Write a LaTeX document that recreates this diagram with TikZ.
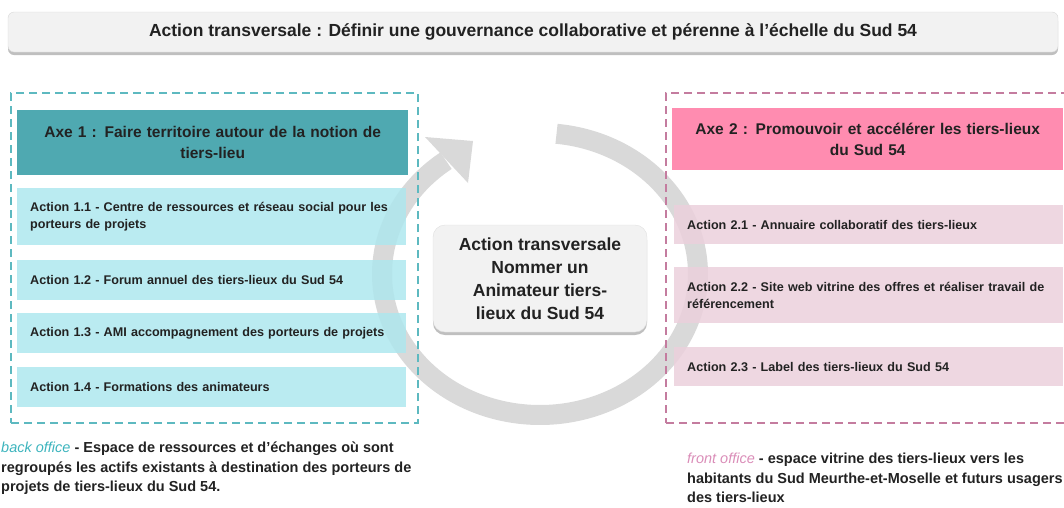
\documentclass[tikz,border=0pt]{standalone}
\usepackage{fontspec}
\setmainfont{Liberation Sans}
\usetikzlibrary{shadows}
\definecolor{teal1}{HTML}{4FA9B1}
\definecolor{cyan1}{HTML}{AEE7EE}
\definecolor{tealdash}{HTML}{5DB9C0}
\definecolor{pink1}{HTML}{FF8CB0}
\definecolor{pinklt}{HTML}{EBD0DC}
\definecolor{pinkdash}{HTML}{C47C9F}
\definecolor{ringgray}{HTML}{D9D9D9}
\definecolor{boxgray}{HTML}{F2F2F2}
\definecolor{txt}{HTML}{222222}
\definecolor{backc}{HTML}{3CB4BD}
\definecolor{frontc}{HTML}{DA8DB8}
\begin{document}
\begin{tikzpicture}[x=1pt,y=-1pt,
  every node/.style={text=txt},
  actbox/.style={anchor=north west, fill opacity=0.85, text opacity=1,
    text width=363pt, inner xsep=13pt, inner ysep=0pt, align=left,
    font=\bfseries\fontsize{12.6}{17}\selectfont, minimum height=40pt},
  act1/.style={actbox, fill=cyan1},
  act2/.style={actbox, fill=pinklt},
  hdr/.style={anchor=north west, text width=371pt, inner xsep=10pt, inner ysep=0pt,
    align=center, font=\bfseries\fontsize{15.5}{21}\selectfont},
  grouping/.style={dash pattern=on 8pt off 5pt, line width=2pt},
  softshadow/.style={drop shadow={shadow xshift=0pt, shadow yshift=-3pt, opacity=0.25, fill=black}},
  note/.style={anchor=north west, align=left, inner sep=0pt,
    font=\bfseries\fontsize{14.5}{19.5}\selectfont}
]
\useasboundingbox (0,0) rectangle (1064,507);
\clip (0,0) rectangle (1064,507);

% cycle ring
\draw[ringgray, line width=20pt] plot[domain=-84:233.5, samples=120, smooth]
  ({540+158*cos(\x)},{274+141*sin(\x)});
\fill[ringgray] (425,137) -- (473,141) -- (468,183) -- cycle;

% top banner
\node[fill=boxgray, draw=black!15, rounded corners=6pt, softshadow,
  minimum width=1050pt, minimum height=40pt, inner sep=0pt,
  font=\bfseries\fontsize{17.5}{20}\selectfont] (title) at (533,32)
  {Action transversale : Définir une gouvernance collaborative et pérenne à l'échelle du Sud 54};

% left group
\node[grouping, draw=tealdash, anchor=north west, minimum width=407pt, minimum height=330pt, inner sep=0pt] (g1) at (10,92) {};
\node[hdr, fill=teal1, minimum height=65pt] (axe1) at (17,110)
  {Axe 1 : Faire territoire autour de la notion de\\tiers-lieu};
\node[act1, minimum height=57pt] (a11) at (17,188)
  {Action 1.1 - Centre de ressources et réseau social pour les\\porteurs de projets};
\node[act1] (a12) at (17,260) {Action 1.2 - Forum annuel des tiers-lieux du Sud 54};
\node[act1] (a13) at (17,313) {Action 1.3 - AMI accompagnement des porteurs de projets};
\node[act1] (a14) at (17,367) {Action 1.4 - Formations des animateurs};

% right group
\node[grouping, draw=pinkdash, anchor=north west, minimum width=420pt, minimum height=330pt, inner sep=0pt] (g2) at (665,92) {};
\node[hdr, fill=pink1, minimum height=62pt] (axe2) at (672,108)
  {Axe 2 : Promouvoir et accélérer les tiers-lieux\\du Sud 54};
\node[act2, minimum height=39pt] (a21) at (674,205) {Action 2.1 - Annuaire collaboratif des tiers-lieux};
\node[act2, minimum height=56pt] (a22) at (674,267)
  {Action 2.2 - Site web vitrine des offres et réaliser travail de\\référencement};
\node[act2, minimum height=39pt] (a23) at (674,347) {Action 2.3 - Label des tiers-lieux du Sud 54};

% center
\node[fill=boxgray, draw=black!12, rounded corners=12pt, softshadow,
  minimum width=214pt, minimum height=107pt, inner sep=0pt, align=center,
  font=\bfseries\fontsize{17.5}{23}\selectfont] (center) at (540,278.5)
  {Action transversale\\Nommer un\\Animateur tiers-\\lieux du Sud 54};

% notes
\node[note] (back) at (1,442)
  {{\mdseries\itshape\color{backc}back office} - Espace de ressources et d'échanges où sont\\
   regroupés les actifs existants à destination des porteurs de\\
   projets de tiers-lieux du Sud 54.};
\node[note] (front) at (687,453)
  {{\mdseries\itshape\color{frontc}front office} - espace vitrine des tiers-lieux vers les\\
   habitants du Sud Meurthe-et-Moselle et futurs usagers\\
   des tiers-lieux};
\end{tikzpicture}
\end{document}
